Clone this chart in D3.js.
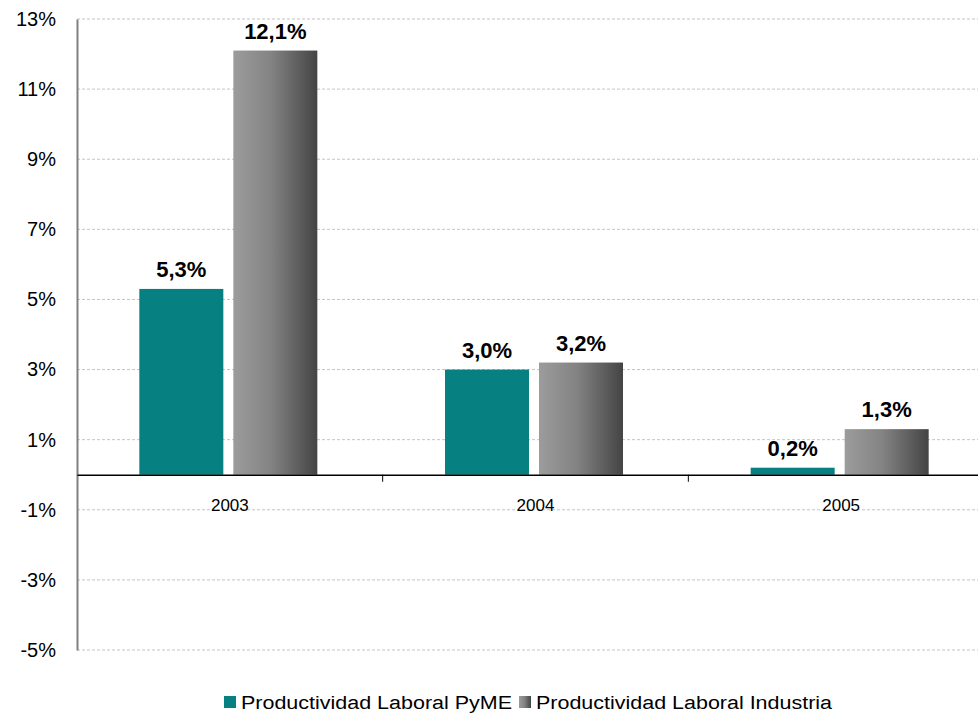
<!DOCTYPE html>
<html>
<head>
<meta charset="utf-8">
<script src="https://cdn.jsdelivr.net/npm/d3@7"></script>
<style>
  body { margin: 0; background: #fff; }
  text { font-family: "Liberation Sans", Arial, sans-serif; }
</style>
</head>
<body>
<div id="chart"></div>
<script>
var years = ["2003", "2004", "2005"];
var pyme = [5.3, 3.0, 0.2];
var industria = [12.1, 3.2, 1.3];
var seriesNames = ["Productividad Laboral PyME", "Productividad Laboral Industria"];
var yTicks = [-5, -3, -1, 1, 3, 5, 7, 9, 11, 13];

var W = 978, H = 713;
var margin = {top: 19, right: -16, bottom: 63, left: 77};
var width = W - margin.left - margin.right,
    height = H - margin.top - margin.bottom;

var svg = d3.select("#chart").append("svg")
    .attr("width", W).attr("height", H);

var defs = svg.append("defs");
var grad = defs.append("linearGradient").attr("id", "grayGrad")
    .attr("x1", "0%").attr("x2", "100%").attr("y1", "0%").attr("y2", "0%");
grad.append("stop").attr("offset", "0%").attr("stop-color", "#9c9c9c");
grad.append("stop").attr("offset", "45%").attr("stop-color", "#838383");
grad.append("stop").attr("offset", "100%").attr("stop-color", "#444444");

var g = svg.append("g")
    .attr("transform", "translate(" + margin.left + "," + margin.top + ")");

var y = d3.scaleLinear().domain([-5, 13]).range([height, 0]);
var x = d3.scaleBand().domain(years).range([0, width]);

// gridlines
g.append("g").selectAll("line").data(yTicks).join("line")
    .attr("x1", 0).attr("x2", width)
    .attr("y1", function(d) { return y(d); })
    .attr("y2", function(d) { return y(d); })
    .attr("stroke", "#c4c4c4")
    .attr("stroke-dasharray", "3,2");

// y axis
var yAxis = g.append("g")
    .call(d3.axisLeft(y).tickValues(yTicks).tickSize(0).tickPadding(21)
      .tickFormat(function(d) { return d + "%"; }));
yAxis.select(".domain").attr("stroke", "#808080").attr("stroke-width", 2);
yAxis.selectAll("text").attr("font-size", 20).attr("fill", "#000");

var barW = 84, gap = 10, shift = -1.5;
function cx(d) { return x(d) + x.bandwidth() / 2 + shift; }

// bars
g.selectAll(".pyme").data(years).join("rect")
    .attr("x", function(d) { return cx(d) - gap / 2 - barW; })
    .attr("width", barW)
    .attr("y", function(d, i) { return y(Math.max(0, pyme[i])); })
    .attr("height", function(d, i) { return Math.abs(y(pyme[i]) - y(0)); })
    .attr("fill", "#068080");

g.selectAll(".ind").data(years).join("rect")
    .attr("x", function(d) { return cx(d) + gap / 2; })
    .attr("width", barW)
    .attr("y", function(d, i) { return y(Math.max(0, industria[i])); })
    .attr("height", function(d, i) { return Math.abs(y(industria[i]) - y(0)); })
    .attr("fill", "url(#grayGrad)");

// value labels
function fmt(v) { return v.toFixed(1).replace(".", ",") + "%"; }
g.selectAll(".lp").data(years).join("text")
    .attr("x", function(d) { return cx(d) - gap / 2 - barW / 2; })
    .attr("y", function(d, i) { return y(pyme[i]) - 12; })
    .attr("text-anchor", "middle").attr("font-size", 22).attr("font-weight", "bold")
    .text(function(d, i) { return fmt(pyme[i]); });
g.selectAll(".li").data(years).join("text")
    .attr("x", function(d) { return cx(d) + gap / 2 + barW / 2; })
    .attr("y", function(d, i) { return y(industria[i]) - 12; })
    .attr("text-anchor", "middle").attr("font-size", 22).attr("font-weight", "bold")
    .text(function(d, i) { return fmt(industria[i]); });

// zero axis with category ticks
var xAxis = g.append("g").attr("transform", "translate(0," + y(0) + ")")
    .call(d3.axisBottom(x).tickSize(0).tickPadding(24));
xAxis.select(".domain").attr("stroke", "#000").attr("stroke-width", 1.5);
xAxis.selectAll("text").attr("font-size", 17).attr("fill", "#000");
g.append("g").selectAll("line").data(years.slice(1)).join("line")
    .attr("x1", function(d) { return x(d); }).attr("x2", function(d) { return x(d); })
    .attr("y1", y(0)).attr("y2", y(0) + 7)
    .attr("stroke", "#000");

// legend
var legend = svg.append("g").attr("transform", "translate(224,696)");
var lx = [0, 295], lw = [271, 296];
legend.selectAll("rect").data(seriesNames).join("rect")
    .attr("x", function(d, i) { return lx[i]; }).attr("y", 0)
    .attr("width", 12).attr("height", 12)
    .attr("fill", function(d, i) { return i === 0 ? "#068080" : "url(#grayGrad)"; });
legend.selectAll("text").data(seriesNames).join("text")
    .attr("x", function(d, i) { return lx[i] + 17; }).attr("y", 13)
    .attr("font-size", 18).attr("fill", "#000")
    .attr("textLength", function(d, i) { return lw[i]; })
    .attr("lengthAdjust", "spacingAndGlyphs")
    .text(function(d) { return d; });
</script>
</body>
</html>
